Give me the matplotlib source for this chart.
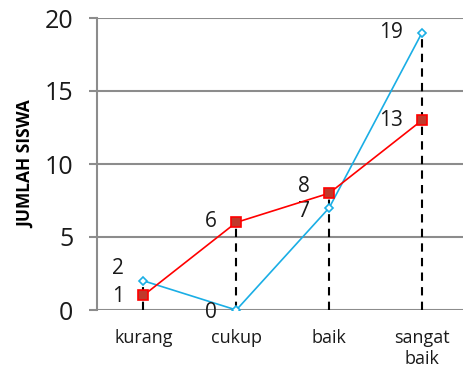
import matplotlib
matplotlib.use("Agg")
import matplotlib.pyplot as plt

categories = ["kurang", "cukup", "baik", "sangat\nbaik"]
series_red = [1, 6, 8, 13]
series_blue = [2, 0, 7, 19]
yticks = [0, 5, 10, 15, 20]

plt.rcParams['font.family'] = ['Open Sans', 'DejaVu Sans']

fig = plt.figure(figsize=(4.64, 3.68), dpi=100)
ax = fig.add_axes([97/464, 1 - 310/368, (468.5 - 97)/464, (310 - 18)/368])
x = list(range(len(categories)))

grid_c = "#8c8c8c"
for v in yticks:
    ax.axhline(v, color=grid_c, lw=1.5, zorder=1)

# drop lines
for xi, r, b in zip(x, series_red, series_blue):
    ax.plot([xi, xi], [0, max(r, b)], color="black", lw=1.5, ls=(0, (4, 3)), zorder=2)

ax.plot(x, series_red, color="#ff0000", lw=1.2, marker="s", ms=7,
        markerfacecolor="#c0392b", markeredgecolor="#ff0000", markeredgewidth=1.2, zorder=4)
ax.plot(x, series_blue, color="#1aaee5", lw=1.2, marker="D", ms=4.5,
        markerfacecolor="white", markeredgecolor="#1aaee5", markeredgewidth=1.2, zorder=3)

# data labels (left of points)
red_offsets = [(-14, -1), (-14, 1), (-14, 5), (-14, 0)]
blue_offsets = [(-14, 9), (-14, -2), (-14, -3), (-14, 0)]
for xi, v, off in zip(x, series_red, red_offsets):
    ax.annotate(str(v), (xi, v), xytext=off, textcoords="offset points",
                ha="right", va="center", fontsize=15, color="#1a1a1a")
for xi, v, off in zip(x, series_blue, blue_offsets):
    ax.annotate(str(v), (xi, v), xytext=off, textcoords="offset points",
                ha="right", va="center", fontsize=15, color="#1a1a1a")

ax.set_xlim(-0.5, 3.5)
ax.set_ylim(0, 20)
ax.set_yticks(yticks)
ax.set_yticklabels([str(v) for v in yticks], fontsize=18, color="#1a1a1a")
ax.set_xticks(x)
ax.set_xticklabels(categories, fontsize=13, color="#1a1a1a", linespacing=1.2, va="top")
ax.tick_params(axis="x", length=0, pad=14)
ax.tick_params(axis="y", length=6, width=1.5, color=grid_c, pad=11)
for s in ["top", "right", "bottom"]:
    ax.spines[s].set_visible(False)
ax.spines["left"].set_color(grid_c)
ax.spines["left"].set_linewidth(1.5)
ax.set_ylabel("JUMLAH SISWA", fontsize=12.5, fontweight="bold", labelpad=7)

fig.savefig("out.png", dpi=100)
